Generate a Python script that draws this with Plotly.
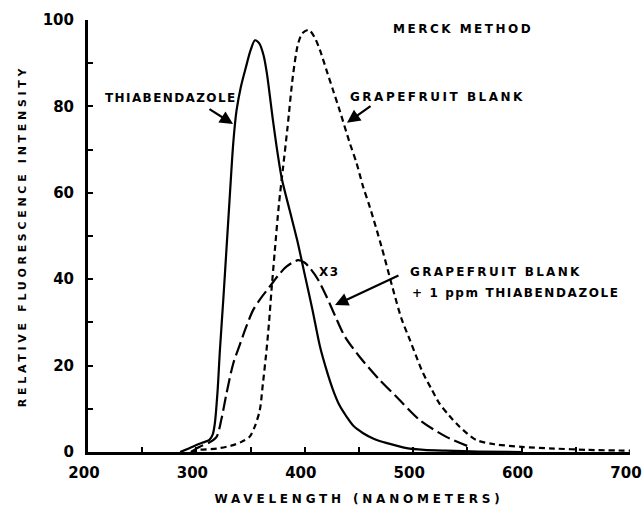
import plotly.graph_objects as go

# Thiabendazole (solid)
thia_wl = [285, 293, 300, 306, 312, 315, 317, 319.5, 321.7, 325, 328, 331, 334, 337, 341, 345.6,
           350, 354, 358, 362, 365, 370.5, 375, 379, 386, 393, 400, 407, 414, 420, 426, 432, 438.5,
           445, 453.5, 464, 475, 494, 510, 530, 560, 600]
thia_y = [0, 0.8, 1.6, 2.2, 2.8, 4, 6.6, 14, 23.6, 36, 48, 60, 71.5, 79, 84.5, 89,
          93, 95.3, 94.6, 91.8, 87.7, 77, 69, 63, 56, 49, 41, 33, 24.4, 19, 14.4, 10.8, 8.2,
          6, 4.4, 3, 2.1, 0.9, 0.5, 0.3, 0.1, 0]

# Grapefruit blank (short dashes)
gb_wl = [295, 303, 319, 334, 342, 349, 354, 358.5, 361, 364.7, 367, 369.3, 372.4, 376, 380, 384,
         389, 393.8, 398, 403.7, 409, 414, 420, 426, 432, 441.5, 447.7, 453.8, 460, 470.8, 481, 489,
         497, 503, 509, 517, 524, 533, 543, 558, 575, 600, 630, 660, 700]
gb_y = [0, 0.5, 0.8, 1.6, 2.4, 3.5, 6, 9.7, 15, 23.6, 30, 37.5, 46.8, 57, 66, 75,
        87, 94.5, 97, 97.7, 96, 93, 88.4, 83.8, 79.2, 71.5, 66.9, 61.4, 56.7, 47.5, 38, 31,
        25.9, 22, 18.3, 14.5, 11.3, 8.5, 5.8, 2.8, 1.8, 1.2, 0.8, 0.5, 0.3]

# Grapefruit blank + 1 ppm thiabendazole (x3, long dashes)
x3_wl = [295, 303, 312, 318.6, 323, 327.8, 334, 340, 346, 352.4, 360, 367.7, 375, 383, 393.8, 400,
         405, 412, 420, 428, 437, 450.7, 469, 484.5, 506, 530.6, 552]
x3_y = [0, 1.2, 2.2, 3.5, 7.5, 13.6, 20.5, 24.8, 29, 32.9, 35.8, 38.3, 40.7, 42.9, 44.4, 43.8,
        42.5, 40, 36, 31.5, 26.7, 22, 16.7, 12.8, 7.4, 3.5, 1.2]

x_ticks = [200, 300, 400, 500, 600, 700]
y_ticks = [0, 20, 40, 60, 80, 100]

FONT = "DejaVu Sans"


def spaced(t, px):
    return '<span style="letter-spacing:%spx">%s</span>' % (px, t)


fig = go.Figure()
fig.add_trace(go.Scatter(x=thia_wl, y=thia_y, mode="lines", hoverinfo="skip",
                         line=dict(color="black", width=2.2, shape="spline", smoothing=0.8)))
fig.add_trace(go.Scatter(x=gb_wl, y=gb_y, mode="lines", hoverinfo="skip",
                         line=dict(color="black", width=2.2, dash="6px,4px", shape="spline", smoothing=0.8)))
fig.add_trace(go.Scatter(x=x3_wl, y=x3_y, mode="lines", hoverinfo="skip",
                         line=dict(color="black", width=2.2, dash="14px,5px", shape="spline", smoothing=0.8)))

lab = dict(family=FONT, size=12, color="black", weight="bold")

ann = [
    dict(x=546, y=97.9, text=spaced("MERCK METHOD", 2.5), showarrow=False, xanchor="center", yanchor="middle", font=lab),
    dict(x=276.6, y=81.9, text=spaced("THIABENDAZOLE", 1.4), showarrow=False, xanchor="center", yanchor="middle", font=lab),
    dict(x=522, y=82.2, text=spaced("GRAPEFRUIT BLANK", 2.5), showarrow=False, xanchor="center", yanchor="middle", font=lab),
    dict(x=423, y=41.7, text=spaced("X3", 1.5), showarrow=False, xanchor="center", yanchor="middle", font=lab),
    dict(x=495.2, y=41.7, text=spaced("GRAPEFRUIT BLANK", 2.3), showarrow=False, xanchor="left", yanchor="middle", font=lab),
    dict(x=497.5, y=36.8, text=spaced("+ 1 ppm THIABENDAZOLE", 1.6), showarrow=False, xanchor="left", yanchor="middle", font=lab),
    # arrows
    dict(x=333.8, y=75.9, ax=310.7, ay=79.6, axref="x", ayref="y", text="", showarrow=True,
         arrowhead=2, arrowsize=1.2, arrowwidth=2.2, arrowcolor="black"),
    dict(x=438.9, y=76.2, ax=462, ay=80.3, axref="x", ayref="y", text="", showarrow=True,
         arrowhead=2, arrowsize=1.2, arrowwidth=2.2, arrowcolor="black"),
    dict(x=427.9, y=34, ax=487.8, ay=41, axref="x", ayref="y", text="", showarrow=True,
         arrowhead=2, arrowsize=1.2, arrowwidth=2.2, arrowcolor="black"),
]

fig.update_layout(
    width=644, height=511,
    margin=dict(l=88, r=14, t=20, b=59),
    plot_bgcolor="white", paper_bgcolor="white",
    showlegend=False,
    hovermode=False,
    annotations=ann,
    xaxis=dict(range=[200, 700], tickvals=x_ticks, ticktext=[str(v) for v in x_ticks],
               automargin=False, ticklabeloverflow="allow", ticklabelshift=-4,
               showgrid=False, zeroline=False, showline=True, linecolor="black", linewidth=3,
               ticks="inside", ticklen=5, tickwidth=2, tickcolor="black",
               minor=dict(dtick=50, tick0=200, ticks="inside", ticklen=5, tickwidth=2, tickcolor="black"),
               tickfont=dict(family=FONT, size=15, color="black", weight="bold"),
               ticklabelstandoff=5,
               title=dict(text=spaced("WAVELENGTH (NANOMETERS)", 3.8), standoff=14,
                          font=dict(family=FONT, size=12, color="black", weight="bold"))),
    yaxis=dict(range=[0, 100], tickvals=y_ticks, ticktext=[str(v) for v in y_ticks],
               automargin=False, ticklabeloverflow="allow",
               showgrid=False, zeroline=False, showline=True, linecolor="black", linewidth=3,
               ticks="inside", ticklen=5, tickwidth=2, tickcolor="black",
               minor=dict(dtick=10, tick0=0, ticks="inside", ticklen=5, tickwidth=2, tickcolor="black"),
               tickfont=dict(family=FONT, size=15, color="black", weight="bold"),
               ticklabelstandoff=8,
               title=dict(text=spaced("RELATIVE FLUORESCENCE INTENSITY", 3.7), standoff=14,
                          font=dict(family=FONT, size=11, color="black", weight="bold"))),
)

fig.write_html("out.html", config={"displayModeBar": False, "staticPlot": True},
               post_script="document.body.style.margin='0px';")
